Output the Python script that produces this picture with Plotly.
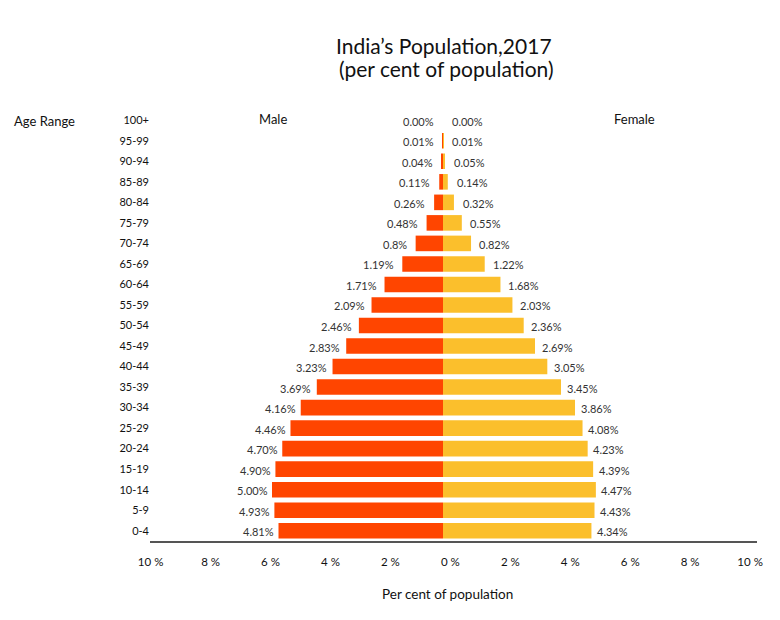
import plotly.graph_objects as go

ages = ["0-4", "5-9", "10-14", "15-19", "20-24", "25-29", "30-34", "35-39", "40-44", "45-49",
        "50-54", "55-59", "60-64", "65-69", "70-74", "75-79", "80-84", "85-89", "90-94", "95-99", "100+"]
male = [4.81, 4.93, 5.00, 4.90, 4.70, 4.46, 4.16, 3.69, 3.23, 2.83, 2.46, 2.09, 1.71, 1.19, 0.8,
        0.48, 0.26, 0.11, 0.04, 0.01, 0.00]
female = [4.34, 4.43, 4.47, 4.39, 4.23, 4.08, 3.86, 3.45, 3.05, 2.69, 2.36, 2.03, 1.68, 1.22, 0.82,
          0.55, 0.32, 0.14, 0.05, 0.01, 0.00]
male_labels = ["4.81%", "4.93%", "5.00%", "4.90%", "4.70%", "4.46%", "4.16%", "3.69%", "3.23%", "2.83%",
               "2.46%", "2.09%", "1.71%", "1.19%", "0.8%", "0.48%", "0.26%", "0.11%", "0.04%", "0.01%", "0.00%"]
female_labels = ["4.34%", "4.43%", "4.47%", "4.39%", "4.23%", "4.08%", "3.86%", "3.45%", "3.05%", "2.69%",
                 "2.36%", "2.03%", "1.68%", "1.22%", "0.82%", "0.55%", "0.32%", "0.14%", "0.05%", "0.01%", "0.00%"]
tick_vals = [-10, -8, -6, -4, -2, 0, 2, 4, 6, 8, 10]
tick_text = ["10 %", "8 %", "6 %", "4 %", "2 %", "0 %", "2 %", "4 %", "6 %", "8 %", "10 %"]
title_lines = ["India’s Population,2017", "(per cent of population)"]

MALE_C = "#FF4500"
FEMALE_C = "#FBBF2C"
FONT = "Lato"

O = 8  # page body margin offset
FW, FH = 780 - O, 620 - O

fig = go.Figure()
fig.add_trace(go.Bar(y=ages, x=[-v for v in male], orientation="h", marker=dict(color=MALE_C, line=dict(width=0)),
                     name="Male", hoverinfo="skip"))
fig.add_trace(go.Bar(y=ages, x=female, orientation="h", marker=dict(color=FEMALE_C, line=dict(width=0)),
                     name="Female", hoverinfo="skip"))
# invisible trace to carry the labelled percentage axis
fig.add_trace(go.Scatter(x=[-10, 10], y=[ages[0], ages[0]], xaxis="x2", mode="markers",
                         marker=dict(opacity=0, size=1), hoverinfo="skip", showlegend=False))

annotations = []
for a, v, t in zip(ages, male, male_labels):
    annotations.append(dict(x=-v, y=a, xref="x", yref="y", text=t, showarrow=False, xanchor="right",
                            xshift=-(7 - 1.0 * v), yshift=-1, font=dict(family=FONT, size=11, color="#333")))
for a, v, t in zip(ages, female, female_labels):
    annotations.append(dict(x=v, y=a, xref="x", yref="y", text=t, showarrow=False, xanchor="left",
                            xshift=(7 - 0.8 * v), yshift=-1, font=dict(family=FONT, size=11, color="#333")))

L, R, T, B = 150 - O, 757 - O, 110 - O, 541 - O
W, H = R - L, B - T
ZERO = 443 - O
def px(x):
    return (x - O - L) / W
def py(y):
    return (B - (y - O)) / H

annotations += [
    dict(x=px(444), y=py(45), xref="paper", yref="paper", text=title_lines[0],
         showarrow=False, xanchor="center", yanchor="middle", font=dict(family=FONT, size=21, color="#111")),
    dict(x=px(446), y=py(69), xref="paper", yref="paper", text=title_lines[1],
         showarrow=False, xanchor="center", yanchor="middle", font=dict(family=FONT, size=21, color="#111")),
    dict(x=px(45), y=py(121), xref="paper", yref="paper", text="Age Range", showarrow=False,
         xanchor="center", yanchor="middle", font=dict(family=FONT, size=13, color="#111")),
    dict(x=px(273), y=py(119), xref="paper", yref="paper", text="Male", showarrow=False,
         xanchor="center", yanchor="middle", font=dict(family=FONT, size=13, color="#111")),
    dict(x=px(634), y=py(119), xref="paper", yref="paper", text="Female", showarrow=False,
         xanchor="center", yanchor="middle", font=dict(family=FONT, size=13, color="#111")),
    dict(x=px(447), y=py(594), xref="paper", yref="paper", text="Per cent of population", showarrow=False,
         xanchor="center", yanchor="middle", font=dict(family=FONT, size=13.5, color="#111")),
]

fig.update_layout(
    width=FW, height=FH,
    margin=dict(l=L, r=FW - R, t=T, b=FH - B, autoexpand=False),
    paper_bgcolor="white", plot_bgcolor="white",
    barmode="relative", bargap=0.24, showlegend=False,
    xaxis=dict(range=[-(ZERO - L) / 34.2, (R - ZERO) / 34.2], visible=False, fixedrange=True),
    xaxis2=dict(overlaying="x", anchor="y", side="bottom", range=[-10.02, 10.23],
                tickvals=tick_vals, ticktext=tick_text, showgrid=False, zeroline=False,
                showline=True, linecolor="#555", linewidth=1.5, ticks="", ticklabelstandoff=9,
                tickfont=dict(family=FONT, size=11.5, color="#111")),
    yaxis=dict(type="category", categoryorder="array", categoryarray=ages, range=[-0.5, 20.5],
               autorange=False, showgrid=False, zeroline=False, showline=False, ticks="",
               ticklabelstandoff=0, tickfont=dict(family=FONT, size=11, color="#111")),
    annotations=annotations,
)

fig.write_html("out.html")
